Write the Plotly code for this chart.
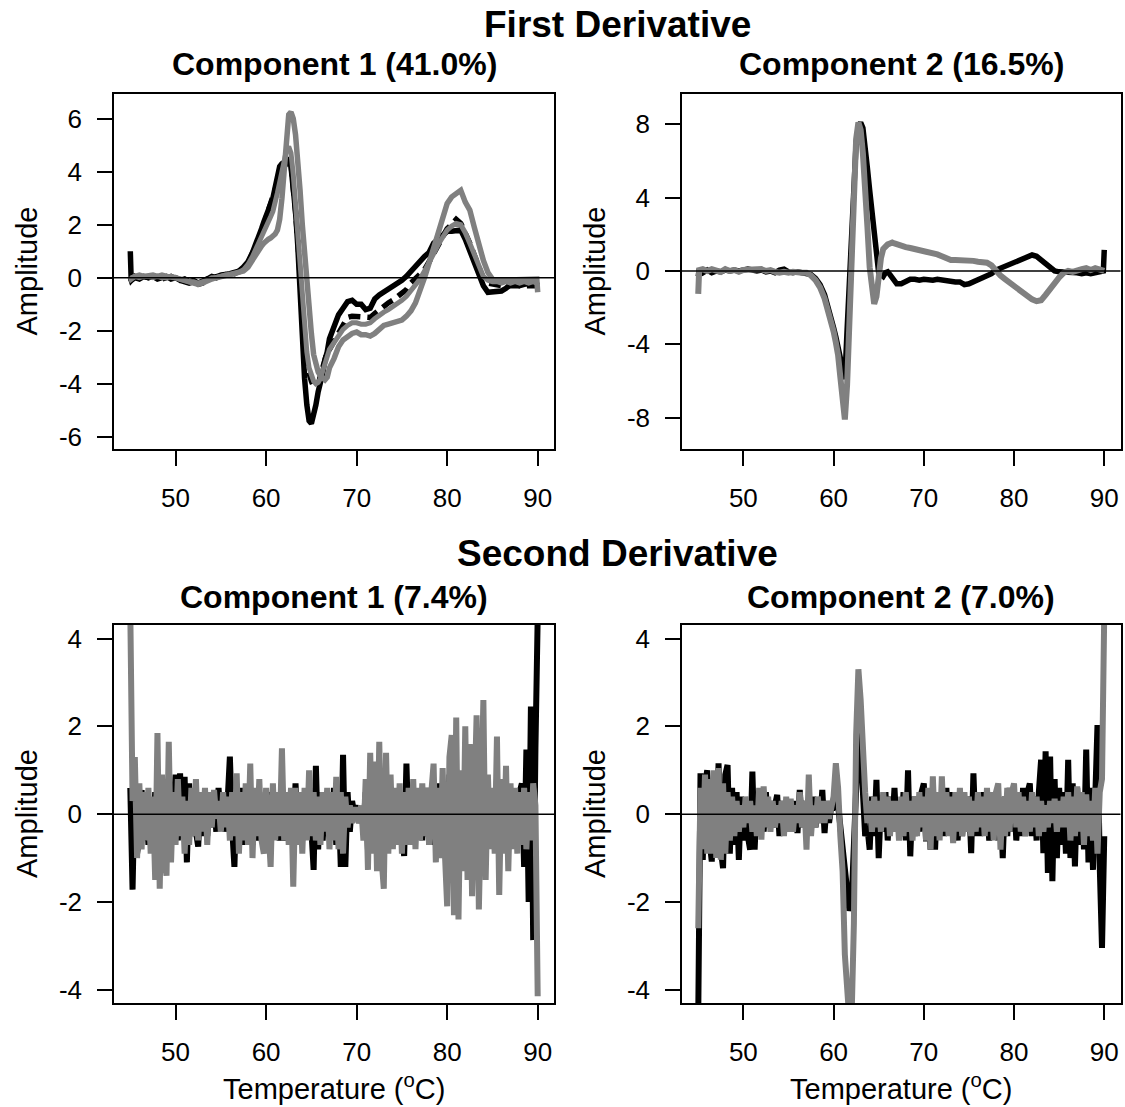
import plotly.graph_objects as go

# ---------------- data ----------------
# temperature grid for first-derivative loadings
temp_fd = [45, 45.1, 45.5, 46, 46.5, 47, 47.5, 48, 48.5, 49, 49.5, 50, 50.5, 51, 51.5,
           52, 52.5, 53, 53.5, 54, 54.5, 55, 55.5, 56, 56.5, 57, 57.5, 58, 58.5, 59,
           59.25, 59.5, 59.75, 60, 60.25, 60.5, 60.75, 61, 61.25, 61.5, 61.75, 62,
           62.25, 62.5, 62.75, 63, 63.25, 63.5, 63.75, 64, 64.25, 64.5, 64.75, 65,
           65.25, 65.5, 65.75, 66, 66.25, 66.5, 66.75, 67,
           67.5, 68, 68.5, 69, 69.5, 70, 70.5, 71, 71.5, 72, 72.5, 73, 73.5, 74, 74.5,
           75, 75.5, 76, 76.5, 77, 77.5, 78, 78.5, 79, 79.5, 80, 80.5, 81, 81.5, 82,
           82.5, 83, 83.5, 84, 84.5, 85, 85.5, 86, 86.5, 87, 87.5, 88, 88.5, 89, 89.5,
           89.9, 90]

# First derivative, component 1
fd1_black = [1.0, -0.1, 0.0, -0.05, 0.05, 0.0, 0.05, -0.05, 0.0, 0.05, -0.05, 0.0, -0.1, -0.05, -0.15,
             -0.1, -0.2, -0.15, -0.05, 0.05, 0.0, 0.1, 0.1, 0.15, 0.2, 0.25, 0.4, 0.6, 0.95, 1.35,
             1.6, 1.85, 2.1, 2.3, 2.55, 2.8, 3.0, 3.4, 3.8, 4.2, 4.3, 4.35,
             4.4, 4.45, 4.2, 3.4, 2.5, 1.2, -0.6, -2.6, -3.8, -4.8, -5.4, -5.5,
             -5.2, -4.8, -4.3, -4.0, -3.6, -3.1, -2.8, -2.3,
             -1.8, -1.4, -1.15, -0.9, -0.85, -1.0, -1.0, -1.2, -1.15, -0.8, -0.65, -0.55, -0.45, -0.35, -0.2,
             -0.1, 0.05, 0.25, 0.45, 0.65, 0.8, 0.95, 1.3, 1.45, 1.6, 1.75, 1.75, 1.8, 1.8, 1.45,
             1.0, 0.6, 0.15, -0.3, -0.55, -0.55, -0.55, -0.5, -0.4, -0.25, -0.25, -0.3, -0.25, -0.2, -0.2,
             -0.2, -0.15]
fd1_dash = [0.0, -0.1, 0.05, -0.05, 0.05, 0.0, 0.05, 0.0, -0.05, 0.0, 0.05, -0.05, -0.1, -0.1, -0.2,
            -0.15, -0.25, -0.2, -0.05, 0.0, 0.05, 0.05, 0.1, 0.15, 0.15, 0.25, 0.35, 0.55, 0.9, 1.3,
            1.5, 1.7, 2.0, 2.25, 2.5, 2.7, 2.95, 3.3, 3.6, 3.9, 4.1, 4.2,
            4.3, 4.4, 4.3, 3.6, 2.5, 1.4, 0.0, -1.5, -2.5, -3.3, -3.7, -3.9,
            -4.1, -4.1, -4.05, -3.7, -3.4, -3.0, -2.8, -2.7,
            -2.4, -2.05, -1.7, -1.5, -1.45, -1.45, -1.5, -1.5, -1.5, -1.35, -1.2, -1.05, -0.95, -0.85, -0.7,
            -0.6, -0.45, -0.2, -0.05, 0.15, 0.3, 0.6, 0.9, 1.3, 1.6, 1.85, 2.0, 2.2, 2.05, 1.7,
            1.3, 0.85, 0.4, -0.05, -0.2, -0.25, -0.25, -0.3, -0.3, -0.3, -0.35, -0.3, -0.3, -0.35, -0.3,
            -0.3, -0.3]
fd1_gray = [0.05, -0.05, 0.05, 0.1, 0.05, 0.1, 0.1, 0.05, 0.1, 0.05, 0.05, 0.0, -0.05, -0.1, -0.1,
            -0.2, -0.25, -0.2, -0.1, -0.05, 0.0, 0.05, 0.05, 0.1, 0.15, 0.2, 0.25, 0.4, 0.7, 1.0,
            1.1, 1.2, 1.3, 1.4, 1.45, 1.5, 1.55, 1.65, 1.8, 2.2, 3.0, 4.3,
            5.4, 6.15, 6.25, 6.0, 5.4, 4.5, 3.3, 2.0, 0.8, -0.4, -1.4, -2.1,
            -2.9, -3.3, -3.55, -3.7, -3.8, -3.85, -3.75, -3.4,
            -3.05, -2.6, -2.35, -2.2, -2.1, -2.05, -2.15, -2.15, -2.2, -2.1, -1.95, -1.8, -1.75, -1.7, -1.65,
            -1.6, -1.45, -1.25, -0.95, -0.5, 0.0, 0.55, 1.1, 1.55, 2.1, 2.8, 3.05, 3.2, 3.3, 2.85,
            2.55, 1.9, 1.2, 0.65, 0.2, -0.05, -0.1, -0.1, -0.05, -0.1, -0.1, -0.05, -0.1, -0.05, -0.1,
            -0.05, -0.55]
fd1_gray2 = [0.0, 0.0, 0.05, 0.0, 0.05, 0.05, 0.0, 0.05, 0.0, 0.0, 0.05, 0.0, -0.05, -0.1, -0.15,
             -0.15, -0.2, -0.15, -0.1, 0.0, 0.0, 0.05, 0.1, 0.1, 0.15, 0.2, 0.3, 0.5, 0.8, 1.15,
             1.35, 1.5, 1.7, 1.9, 2.1, 2.3, 2.5, 2.8, 3.2, 3.6, 4.0, 4.4,
             4.8, 4.95, 4.7, 3.9, 2.8, 1.6, 0.3, -1.0, -2.0, -2.8, -3.4, -3.7,
             -3.9, -4.0, -3.95, -3.8, -3.55, -3.25, -2.95, -2.7,
             -2.45, -2.2, -1.95, -1.8, -1.7, -1.7, -1.75, -1.75, -1.7, -1.55, -1.4, -1.3, -1.2, -1.1, -0.95,
             -0.85, -0.7, -0.5, -0.3, -0.05, 0.25, 0.55, 0.9, 1.25, 1.55, 1.8, 1.95, 2.05, 2.0, 1.7,
             1.3, 0.85, 0.4, 0.05, -0.1, -0.15, -0.15, -0.2, -0.15, -0.2, -0.15, -0.2, -0.15, -0.2, -0.15,
             -0.2, -0.3]

# First derivative, component 2
fd2_black = [-0.3, 0.1, -0.1, 0.05, -0.1, 0.0, -0.05, 0.05, 0.0, 0.05, 0.0, 0.05, 0.1, 0.05, 0.0,
             0.05, -0.05, 0.0, -0.1, 0.05, 0.1, -0.05, -0.1, -0.05, -0.1, -0.1, -0.2, -0.4, -0.75, -1.3,
             -1.7, -2.1, -2.6, -3.1, -3.6, -4.2, -4.8, -5.5, -5.9, -3.2, -0.2, 2.6,
             5.2, 7.0, 7.8, 8.1, 7.8, 6.9, 5.6, 4.4, 3.2, 2.0, 0.9, -0.1,
             -0.2, -0.3, -0.1, -0.05, -0.2, -0.4, -0.6, -0.7,
             -0.7, -0.55, -0.45, -0.45, -0.5, -0.45, -0.5, -0.5, -0.45, -0.5, -0.5, -0.55, -0.6, -0.6, -0.75,
             -0.7, -0.6, -0.5, -0.4, -0.3, -0.15, 0.05, 0.15, 0.25, 0.35, 0.45, 0.6, 0.7, 0.8, 0.87,
             0.8, 0.6, 0.4, 0.15, 0.0, -0.05, -0.05, -0.1, -0.05, -0.1, -0.15, -0.1, -0.15, -0.1, -0.1,
             0.0, 1.15]
fd2_gray = [-1.25, 0.05, 0.1, 0.0, 0.1, 0.05, -0.05, 0.1, 0.0, 0.05, -0.05, 0.05, 0.05, 0.1, 0.05,
            0.1, 0.0, 0.05, -0.05, -0.1, -0.05, -0.1, -0.05, -0.1, -0.1, -0.1, -0.25, -0.5, -0.9, -1.5,
            -1.9, -2.4, -2.9, -3.3, -3.9, -4.6, -5.8, -7.3, -8.1, -6.2, -2.8, 1.0,
            4.6, 7.2, 8.1, 7.7, 6.4, 4.8, 2.4, 0.2, -1.2, -1.8, -1.4, -0.2,
            0.7, 1.2, 1.4, 1.45, 1.5, 1.55, 1.5, 1.45,
            1.35, 1.3, 1.25, 1.2, 1.15, 1.05, 1.0, 0.95, 0.9, 0.8, 0.7, 0.6, 0.6, 0.6, 0.6,
            0.55, 0.55, 0.5, 0.5, 0.45, 0.3, 0.0, -0.25, -0.45, -0.65, -0.85, -1.05, -1.25, -1.4, -1.55,
            -1.65, -1.6, -1.3, -0.95, -0.7, -0.35, -0.1, 0.0, -0.05, 0.05, 0.1, 0.15, 0.05, 0.15, 0.05,
            -0.05, 0.0]

# temperature grid for second-derivative loadings
temp_sd = [45, 45.25, 45.5, 45.75, 46, 46.25, 46.5, 46.75, 47, 47.25, 47.5, 47.75,
           48, 48.25, 48.5, 48.75, 49, 49.25, 49.5, 49.75, 50, 50.25, 50.5, 50.75,
           51, 51.25, 51.5, 51.75, 52, 52.25, 52.5, 52.75, 53, 53.25, 53.5, 53.75,
           54, 54.25, 54.5, 54.75, 55, 55.25, 55.5, 55.75, 56, 56.25, 56.5, 56.75,
           57, 57.25, 57.5, 57.75, 58, 58.25, 58.5, 58.75, 59, 59.25, 59.5, 59.75,
           60, 60.25, 60.5, 60.75, 61, 61.25, 61.5, 61.75, 62, 62.25, 62.5, 62.75,
           63, 63.25, 63.5, 63.75, 64, 64.25, 64.5, 64.75, 65, 65.25, 65.5, 65.75,
           66, 66.25, 66.5, 66.75, 67, 67.25, 67.5, 67.75, 68, 68.25, 68.5, 68.75,
           69, 69.25, 69.5, 69.75, 70, 70.25, 70.5, 70.75, 71, 71.25, 71.5, 71.75,
           72, 72.25, 72.5, 72.75, 73, 73.25, 73.5, 73.75, 74, 74.25, 74.5, 74.75,
           75, 75.25, 75.5, 75.75, 76, 76.25, 76.5, 76.75, 77, 77.25, 77.5, 77.75,
           78, 78.25, 78.5, 78.75, 79, 79.25, 79.5, 79.75, 80, 80.25, 80.5, 80.75,
           81, 81.25, 81.5, 81.75, 82, 82.25, 82.5, 82.75, 83, 83.25, 83.5, 83.75,
           84, 84.25, 84.5, 84.75, 85, 85.25, 85.5, 85.75, 86, 86.25, 86.5, 86.75,
           87, 87.25, 87.5, 87.75, 88, 88.25, 88.5, 88.75, 89, 89.25, 89.5, 89.75,
           90]

# Second derivative, component 1
sd1_black = [0.6, -1.72, 0.8, -0.9, -0.5, 0.55, -0.6, 0.4, -0.7, 0.3, -0.8, 0.5,
             -0.9, 0.7, -1.0, 0.6, -0.8, 0.5, -0.6, 0.4, 0.9, -0.6, 0.93, -0.5,
             0.85, -1.1, 0.7, -0.5, 0.5, -0.4, -0.74, 0.4, -0.5, 0.4, -0.5, 0.3,
             -0.3, 0.4, -0.4, 0.6, -0.3, 0.5, -0.4, 0.3, 1.31, -0.3, -1.2, 0.6,
             -0.6, 0.6, -0.7, 0.5, -0.5, 0.6, -0.7, 0.4, -0.6, 0.5, -0.6, 0.4,
             -0.7, 0.5, -0.6, 0.5, -0.5, 0.4, -0.6, -0.2, -0.6, 0.3, -0.5, 0.4,
             -0.5, 0.7, -0.4, 0.5, -0.6, 0.5, -0.5, 0.6, -0.4, -1.27, 1.1, -0.8,
             0.5, -0.6, 0.4, -0.5, 0.5, -0.5, 0.6, -0.7, 0.4, -1.2, 1.35, -1.2,
             0.5, -0.4, 0.3, 0.0, 0.2, -0.2, 0.1, -0.3, 0.5, -0.8, 0.6, -0.6,
             0.7, -0.6, 0.5, -0.7, 0.6, -0.5, 0.4, -0.6, -0.4, 0.5, -0.4, 0.5,
             -0.5, -0.95, 1.15, -0.6, 0.5, -0.6, 0.4, -0.5, 0.5, -0.6, 0.6, -0.5,
             0.6, -0.7, 0.7, -0.6, 0.7, -0.8, 0.6, -0.7, -1.2, 0.9, -1.0, 1.2,
             1.0, -1.3, 0.8, -1.0, 1.2, -1.0, 0.9, -1.2, 0.8, 1.3, -1.2, 0.9,
             1.3, -1.0, 0.6, -0.7, 0.5, -0.6, 0.8, -0.9, 0.6, -0.7, 0.5, -0.8,
             0.5, -0.6, 0.4, -0.7, 0.5, 0.7, -1.2, 1.47, -2.0, 2.45, -2.87, 1.5,
             4.5]
sd1_gray = [4.6, 0.3, 1.3, -1.0, 0.7, -0.8, 0.5, -0.6, 0.6, -0.9, 0.4, -1.5,
            1.85, -1.7, 0.9, -1.0, -1.4, 1.65, -1.1, 0.5, -0.7, 0.8, -0.5, 0.4,
            -0.9, 0.3, -0.7, 0.6, -0.5, 0.8, -0.6, 0.5, -0.4, 0.6, -0.7, 0.5,
            -0.3, 0.55, -0.1, 0.3, -0.4, 0.5, -0.3, 0.4, -0.6, 0.5, -0.5, 0.93,
            -0.9, 0.5, -0.6, 0.7, -0.7, 1.15, -1.0, 0.6, -0.5, 0.8, -0.6, -0.9,
            0.6, -0.5, -1.2, 0.7, -0.6, 0.5, -0.5, 1.5, -0.6, 0.5, -0.7, 0.6,
            -1.65, 0.6, -0.7, 0.5, -0.9, 0.6, -0.6, 1.0, -0.5, 0.5, -0.6, 0.4,
            -0.7, 0.5, -0.4, 0.6, -0.8, 0.5, -0.6, 0.85, -0.8, 0.5, -0.9, 0.4,
            -0.3, 0.2, -0.2, 0.1, 0.1, -0.2, 0.2, -0.6, 0.8, -1.27, 1.4, -0.9,
            1.2, -1.3, 1.65, -1.0, -1.7, 1.4, -0.9, 0.9, -0.8, 0.6, -0.7, 0.7,
            -0.9, 0.5, -0.7, 0.6, -0.7, 0.8, -0.8, 0.6, -0.6, 0.7, -0.5, 0.6,
            -0.7, 0.5, 1.15, -1.1, 0.6, -1.0, 1.05, -0.9, -2.1, 1.3, 1.8, -2.3,
            2.2, -2.4, 1.0, -1.3, 2.0, -1.5, 1.6, -1.87, 1.0, 2.25, -2.17, 1.3,
            2.6, -1.5, 0.9, -0.8, 0.6, -0.9, 1.77, -1.84, 0.8, -0.9, 1.1, -1.3,
            0.7, -0.8, 0.6, -0.9, 0.5, -0.7, 0.6, -0.8, 0.5, -0.6, 0.7, 0.2,
            -4.15]

# Second derivative, component 2
sd2_black = [-4.6, 0.93, -1.04, 0.7, 1.0, -0.6, -1.08, 0.8, -0.9, 1.16, -0.8, -1.23,
             0.9, 1.12, -0.9, 0.6, -0.7, 0.5, -1.04, 0.4, -0.6, 0.3, -0.5, -0.81,
             0.97, -0.81, 0.4, -0.5, 0.3, -0.4, 0.5, -0.3, 0.3, -0.3, 0.2, 0.44,
             -0.5, 0.3, -0.3, 0.2, -0.3, 0.2, -0.2, 0.3, -0.43, 0.55, -0.3, 0.3,
             -0.4, 0.3, -0.3, 0.4, -0.3, 0.3, -0.2, 0.55, -0.43, 0.3, -0.2, 0.2,
             0.17, 0.3, 0.2, -0.3, -0.7, -1.19, -1.8, -2.2, -2.0, -0.5, 1.2, 1.85,
             1.5, 0.5, -0.5, -0.3, -0.81, 0.4, -0.5, 0.78, -1.0, 0.3, -0.4, 0.5,
             -0.6, 0.4, -0.3, 0.6, -0.4, 0.3, -0.5, 0.5, -0.6, 1.0, -0.96, 0.4,
             -0.5, 0.4, -0.4, 0.5, 0.7, -0.62, 0.5, -0.81, 0.4, -0.81, 0.5, -0.5,
             0.4, -0.5, 0.6, -0.4, 0.5, -0.4, 0.4, -0.6, 0.5, -0.5, 0.3, -0.4,
             0.4, -0.89, 0.93, -0.5, 0.4, -0.5, 0.5, -0.4, 0.3, -0.6, 0.4, -0.5,
             0.5, -0.6, 0.3, -1.0, 0.4, -0.5, 0.6, -0.4, 0.5, -0.6, 0.4, -0.5,
             0.6, -0.5, 0.5, 0.7, -0.5, 0.4, -0.6, 0.5, 1.24, -0.89, 1.43, -1.34,
             1.31, -1.53, 0.8, -1.0, 0.6, -0.7, 0.5, -0.9, 1.24, -1.0, 0.7, -1.19,
             0.6, -0.7, 0.5, -0.8, 1.47, -1.1, 0.6, -1.27, 0.8, 2.03, -1.2, -3.05,
             -0.5]
sd2_gray = [-2.6, 0.6, -0.8, 0.9, -0.9, 0.8, -0.9, 1.0, -1.0, 1.05, -1.04, 0.7,
            -0.9, 0.5, -0.6, 0.4, -0.5, 0.3, -0.4, 0.2, -0.3, 0.4, -0.2, 0.3,
            -0.4, 0.2, -0.5, 0.6, -0.58, 0.63, -0.3, 0.4, -0.4, 0.3, -0.3, 0.2,
            -0.2, 0.3, -0.5, 0.4, -0.4, 0.35, -0.4, 0.2, -0.2, 0.5, -0.3, 0.3,
            -0.81, 0.9, -0.5, 0.2, -0.3, 0.4, -0.2, 0.3, -0.2, 0.3, -0.1, 0.2,
            0.4, 1.16, 0.6, -0.5, -1.3, -3.2, -4.6, -4.7, -4.6, -2.5, 1.8, 3.3,
            2.6, 1.4, 0.5, -0.2, 0.3, -0.4, 0.4, -0.3, 0.3, -0.4, 0.5, -0.3,
            0.4, -0.5, 0.3, -0.4, 0.3, -0.6, 0.4, -0.5, 0.5, -0.4, 0.3, -0.6,
            0.4, -0.5, 0.5, -0.3, 0.4, -0.6, 0.6, -0.81, 0.86, -0.5, 0.5, -0.6,
            0.86, -0.4, 0.5, -0.5, 0.4, -0.66, 0.5, -0.4, 0.6, -0.5, 0.5, -0.4,
            0.4, -0.5, 0.3, -0.4, 0.5, -0.3, 0.4, -0.5, 0.6, -0.4, 0.5, -0.6,
            0.5, 0.7, -0.81, 0.4, -0.5, 0.6, -0.4, 0.5, 0.7, -0.3, 0.5, -0.4,
            0.4, -0.5, 0.3, -0.4, 0.5, -0.3, 0.4, -0.5, 0.3, -0.4, 0.2, -0.3,
            0.3, -0.2, 0.35, -0.4, 0.3, -0.3, 0.4, -0.3, 0.5, -0.6, 0.4, -0.5,
            0.63, -0.4, 0.5, -0.7, 0.45, -0.5, 0.3, -0.6, 0.6, -0.9, 0.5, 0.8,
            4.6]

for name, arr, grid in [("fd1_black", fd1_black, temp_fd), ("fd1_dash", fd1_dash, temp_fd),
                        ("fd1_gray", fd1_gray, temp_fd), ("fd1_gray2", fd1_gray2, temp_fd),
                        ("fd2_black", fd2_black, temp_fd), ("fd2_gray", fd2_gray, temp_fd),
                        ("sd1_black", sd1_black, temp_sd), ("sd1_gray", sd1_gray, temp_sd),
                        ("sd2_black", sd2_black, temp_sd), ("sd2_gray", sd2_gray, temp_sd)]:
    assert len(arr) == len(grid), (name, len(arr), len(grid))

main_titles = ["First Derivative", "Second Derivative"]
panel_titles = ["Component 1 (41.0%)", "Component 2 (16.5%)", "Component 1 (7.4%)", "Component 2 (7.0%)"]
x_ticks = [50, 60, 70, 80, 90]
y_ticks = [[-6, -4, -2, 0, 2, 4, 6], [-8, -4, 0, 4, 8], [-4, -2, 0, 2, 4], [-4, -2, 0, 2, 4]]
y_ranges = [[-6.46, 6.93], [-9.71, 9.65], [-4.31, 4.31], [-4.31, 4.31]]
x_range = [43.2, 91.8]

# ---------------- figure ----------------
W, H = 1125, 1107
FONT = "Liberation Sans, Arial, sans-serif"
GRAY = "#808080"

def px(x):
    return x / W

def py(y):
    return 1 - y / H

fig = go.Figure()

def add_line(x, y, n, color, width, dash="solid"):
    fig.add_trace(go.Scatter(x=x, y=y, mode="lines",
                             line=dict(color=color, width=width, dash=dash),
                             xaxis="x" if n == 1 else f"x{n}",
                             yaxis="y" if n == 1 else f"y{n}",
                             showlegend=False, hoverinfo="skip"))

# panel 1
add_line(temp_fd, fd1_black, 1, "black", 5.5)
add_line(temp_fd, fd1_dash, 1, "black", 5.5, "12px,7px")
add_line(temp_fd, fd1_gray2, 1, GRAY, 5)
add_line(temp_fd, fd1_gray, 1, GRAY, 5.5)
# panel 2
add_line(temp_fd, fd2_black, 2, "black", 5.5)
add_line(temp_fd, fd2_gray, 2, GRAY, 6)
# panel 3
add_line(temp_sd, sd1_black, 3, "black", 6)
add_line(temp_sd, sd1_gray, 3, GRAY, 6)
# panel 4
add_line(temp_sd, sd2_black, 4, "black", 6)
add_line(temp_sd, sd2_gray, 4, GRAY, 6)

x_domains = [[px(114), px(554)], [px(682), px(1120.5)]]
y_domains = [[py(449), py(94)], [py(1003.3), py(625)]]

layout = dict(width=W, height=H, margin=dict(l=0, r=0, t=0, b=0), autosize=False,
              plot_bgcolor="white", paper_bgcolor="white", template="none",
              font=dict(family=FONT, color="black"), showlegend=False)

common = dict(showline=True, mirror=True, linecolor="black", linewidth=1.5,
              ticks="outside", ticklen=15, tickwidth=1.5, tickcolor="black",
              showgrid=False, zeroline=False,
              tickfont=dict(family=FONT, size=26, color="black"))

for i in range(4):
    n = i + 1
    xd = x_domains[i % 2]
    yd = y_domains[i // 2]
    xk = "xaxis" if n == 1 else f"xaxis{n}"
    yk = "yaxis" if n == 1 else f"yaxis{n}"
    layout[xk] = dict(domain=xd, range=x_range, tickvals=x_ticks,
                      ticktext=[str(t) for t in x_ticks], anchor="y" if n == 1 else f"y{n}",
                      ticklabelstandoff=10, **common)
    layout[yk] = dict(domain=yd, range=y_ranges[i], tickvals=y_ticks[i],
                      ticktext=[str(t) for t in y_ticks[i]], anchor="x" if n == 1 else f"x{n}",
                      ticklabelstandoff=10, **common)

fig.update_layout(**layout)

shapes = []
for i in range(4):
    n = i + 1
    shapes.append(dict(type="line", xref=("x" if n == 1 else f"x{n}") + " domain",
                       yref="y" if n == 1 else f"y{n}", x0=0, x1=1, y0=0, y1=0,
                       line=dict(color="black", width=1.5), layer="above"))
fig.update_layout(shapes=shapes)

ann = []
def text(t, x, y, size, bold=False, angle=0):
    ann.append(dict(text=f"<b>{t}</b>" if bold else t, x=px(x), y=py(y), xref="paper", yref="paper",
                    xanchor="center", yanchor="middle", showarrow=False, textangle=angle,
                    font=dict(family=FONT, size=size, color="black")))

text(main_titles[0], 617, 24, 37, True)
text(main_titles[1], 617, 553, 37, True)
text(panel_titles[0], 334, 64, 32, True)
text(panel_titles[1], 901, 64, 32, True)
text(panel_titles[2], 334, 597, 32, True)
text(panel_titles[3], 901, 597, 32, True)
for xx in (27, 595):
    for yy in (271.5, 814):
        text("Amplitude", xx, yy, 29, False, -90)
for xx in (334, 901):
    text("Temperature (<sup>o</sup>C)", xx, 1087, 29)
fig.update_layout(annotations=ann)

fig.write_html("out.html")
